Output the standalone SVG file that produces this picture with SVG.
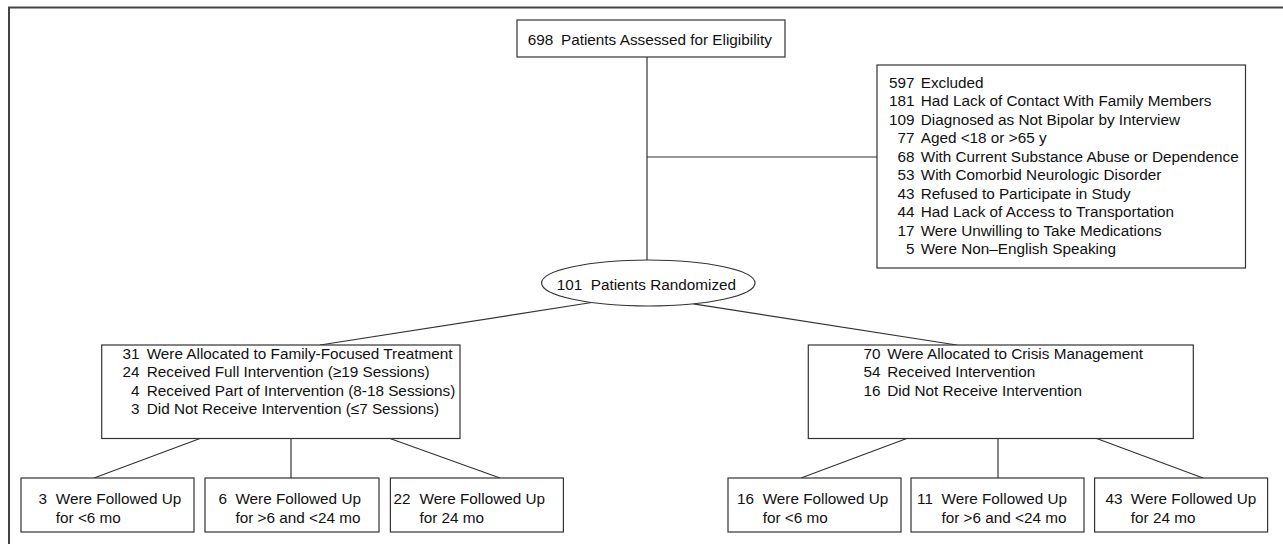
<svg xmlns="http://www.w3.org/2000/svg" width="1283" height="544" viewBox="0 0 1283 544">
<style>
text{font-family:"Liberation Sans",Arial,sans-serif;font-size:15.3px;fill:#111}
.n{text-anchor:end}
.box{fill:#fff;stroke:#333;stroke-width:1.2}
.ln{stroke:#333;stroke-width:1.2;fill:none}
.frame{stroke:#444;stroke-width:2;fill:none}
</style>
<rect width="1283" height="544" fill="#fff"/>
<path class="frame" d="M1283,7.5 H9 V544"/>
<g id="connectors">
<path class="ln" d="M647,57 V260"/>
<path class="ln" d="M647,157 H877"/>
<path class="ln" d="M591.7,302.5 L320,345"/>
<path class="ln" d="M693.3,303.9 L956.7,345"/>
<path class="ln" d="M200,438.5 L94,478"/>
<path class="ln" d="M291,438.5 V478"/>
<path class="ln" d="M390,438.5 L500,478"/>
<path class="ln" d="M906.7,438.5 L801,478"/>
<path class="ln" d="M998,438.5 V478"/>
<path class="ln" d="M1096.7,438.5 L1203,478"/>
</g>
<g id="assessed">
<rect class="box" x="517" y="20" width="268" height="37"/>
<text x="527.7" y="45">698<tspan x="561">Patients Assessed for Eligibility</tspan></text>
</g>
<g id="excluded">
<rect class="box" x="877" y="65" width="368.5" height="203"/>
<text class="n" x="914.5" y="87.7">597</text><text x="920.7" y="87.7">Excluded</text>
<text class="n" x="914.5" y="106.2">181</text><text x="920.7" y="106.2">Had Lack of Contact With Family Members</text>
<text class="n" x="914.5" y="124.7">109</text><text x="920.7" y="124.7">Diagnosed as Not Bipolar by Interview</text>
<text class="n" x="914.5" y="143.2">77</text><text x="920.7" y="143.2">Aged &lt;18 or &gt;65 y</text>
<text class="n" x="914.5" y="161.7">68</text><text x="920.7" y="161.7">With Current Substance Abuse or Dependence</text>
<text class="n" x="914.5" y="180.2">53</text><text x="920.7" y="180.2">With Comorbid Neurologic Disorder</text>
<text class="n" x="914.5" y="198.7">43</text><text x="920.7" y="198.7">Refused to Participate in Study</text>
<text class="n" x="914.5" y="217.2">44</text><text x="920.7" y="217.2">Had Lack of Access to Transportation</text>
<text class="n" x="914.5" y="235.7">17</text><text x="920.7" y="235.7">Were Unwilling to Take Medications</text>
<text class="n" x="914.5" y="254.2">5</text><text x="920.7" y="254.2">Were Non–English Speaking</text>
</g>
<g id="randomized">
<ellipse class="box" cx="648.3" cy="283" rx="106.7" ry="23"/>
<text x="556.7" y="290">101<tspan x="590.7">Patients Randomized</tspan></text>
</g>
<g id="fft">
<rect class="box" x="101.7" y="345" width="358.3" height="93.5"/>
<text class="n" x="139.5" y="359">31</text><text x="146.7" y="359">Were Allocated to Family-Focused Treatment</text>
<text class="n" x="139.5" y="377.3">24</text><text x="146.7" y="377.3">Received Full Intervention (≥19 Sessions)</text>
<text class="n" x="139.5" y="395.6">4</text><text x="146.7" y="395.6">Received Part of Intervention (8-18 Sessions)</text>
<text class="n" x="139.5" y="413.9">3</text><text x="146.7" y="413.9">Did Not Receive Intervention (≤7 Sessions)</text>
</g>
<g id="cm">
<rect class="box" x="808.3" y="345" width="385" height="93.5"/>
<text class="n" x="880.4" y="359">70</text><text x="887.3" y="359">Were Allocated to Crisis Management</text>
<text class="n" x="880.4" y="377.3">54</text><text x="887.3" y="377.3">Received Intervention</text>
<text class="n" x="880.4" y="395.6">16</text><text x="887.3" y="395.6">Did Not Receive Intervention</text>
</g>
<g id="fft-lt6">
<rect class="box" x="21" y="478" width="173" height="54"/>
<text class="n" x="47" y="503.5">3</text><text x="55.8" y="503.5">Were Followed Up</text>
<text x="55.8" y="522.5">for &lt;6 mo</text>
</g>
<g id="fft-6to24">
<rect class="box" x="205" y="478" width="174" height="54"/>
<text class="n" x="227" y="503.5">6</text><text x="235.4" y="503.5">Were Followed Up</text>
<text x="235.4" y="522.5">for &gt;6 and &lt;24 mo</text>
</g>
<g id="fft-24">
<rect class="box" x="390.4" y="478" width="173" height="54"/>
<text class="n" x="410.5" y="503.5">22</text><text x="419.5" y="503.5">Were Followed Up</text>
<text x="419.5" y="522.5">for 24 mo</text>
</g>
<g id="cm-lt6">
<rect class="box" x="728" y="478" width="173" height="54"/>
<text class="n" x="754" y="503.5">16</text><text x="762.7" y="503.5">Were Followed Up</text>
<text x="762.7" y="522.5">for &lt;6 mo</text>
</g>
<g id="cm-6to24">
<rect class="box" x="911" y="478" width="173" height="54"/>
<text class="n" x="933" y="503.5">11</text><text x="941.5" y="503.5">Were Followed Up</text>
<text x="941.5" y="522.5">for &gt;6 and &lt;24 mo</text>
</g>
<g id="cm-24">
<rect class="box" x="1094.6" y="478" width="173" height="54"/>
<text class="n" x="1122.5" y="503.5">43</text><text x="1130.8" y="503.5">Were Followed Up</text>
<text x="1130.8" y="522.5">for 24 mo</text>
</g>
</svg>
